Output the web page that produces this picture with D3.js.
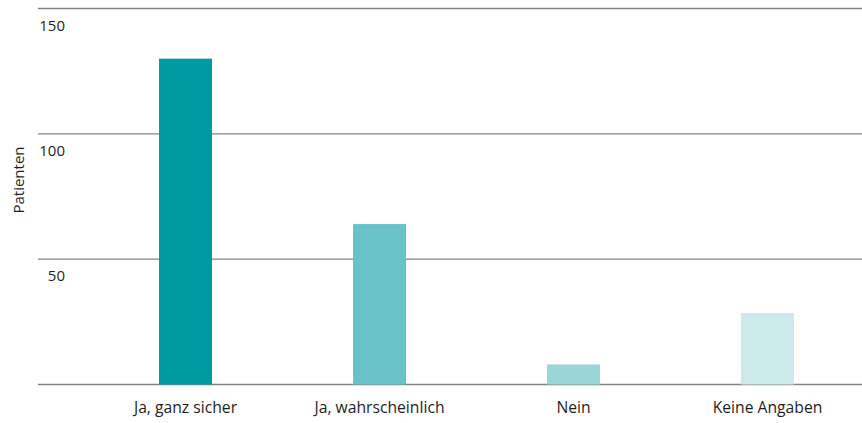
<!DOCTYPE html>
<html>
<head>
<meta charset="utf-8">
<script src="https://cdn.jsdelivr.net/npm/d3@7"></script>
<style>
  body { margin: 0; background: #fff; }
  text { font-family: "Open Sans", sans-serif; fill: #1e1e1e; }
</style>
</head>
<body>
<svg id="svg" width="862" height="423"></svg>
<script>
const categories = ["Ja, ganz sicher", "Ja, wahrscheinlich", "Nein", "Keine Angaben"];
const patienten = [130, 64, 8, 28.5];
const barColors = ["#009aa2", "#68c2c6", "#9ad6d9", "#cce9eb"];
const yTicks = [0, 50, 100, 150];

const svg = d3.select("#svg");

const yScale = d3.scaleLinear()
  .domain([0, 150])
  .range([384.5, 8.5]);

const xScale = d3.scaleBand()
  .domain(categories)
  .range([88.5, 864.5])
  .paddingInner(0.727)
  .paddingOuter(0.3635);

// gridlines
svg.append("g").selectAll("line").data(yTicks)
  .enter().append("line")
  .attr("x1", 38)
  .attr("x2", 862)
  .attr("y1", d => yScale(d))
  .attr("y2", d => yScale(d))
  .attr("stroke", "#858585")
  .attr("stroke-width", 1.3);

// tick labels (no label at 0)
svg.append("g").selectAll("text").data(yTicks.filter(d => d > 0))
  .enter().append("text")
  .attr("x", 65)
  .attr("y", d => yScale(d) + 22)
  .attr("text-anchor", "end")
  .attr("font-size", 15)
  .text(d => d);

// bars
svg.append("g").selectAll("rect").data(patienten)
  .enter().append("rect")
  .attr("x", (d, i) => xScale(categories[i]))
  .attr("y", d => yScale(d))
  .attr("width", xScale.bandwidth())
  .attr("height", d => yScale(0) - yScale(d))
  .attr("fill", (d, i) => barColors[i]);

// category labels
svg.append("g").selectAll("text").data(categories)
  .enter().append("text")
  .attr("x", d => xScale(d) + xScale.bandwidth() / 2)
  .attr("y", 413)
  .attr("text-anchor", "middle")
  .attr("font-size", 15.7)
  .text(d => d);

// y axis title
svg.append("text")
  .attr("transform", "translate(24,180) rotate(-90)")
  .attr("text-anchor", "middle")
  .attr("font-size", 15)
  .text("Patienten");
</script>
</body>
</html>
